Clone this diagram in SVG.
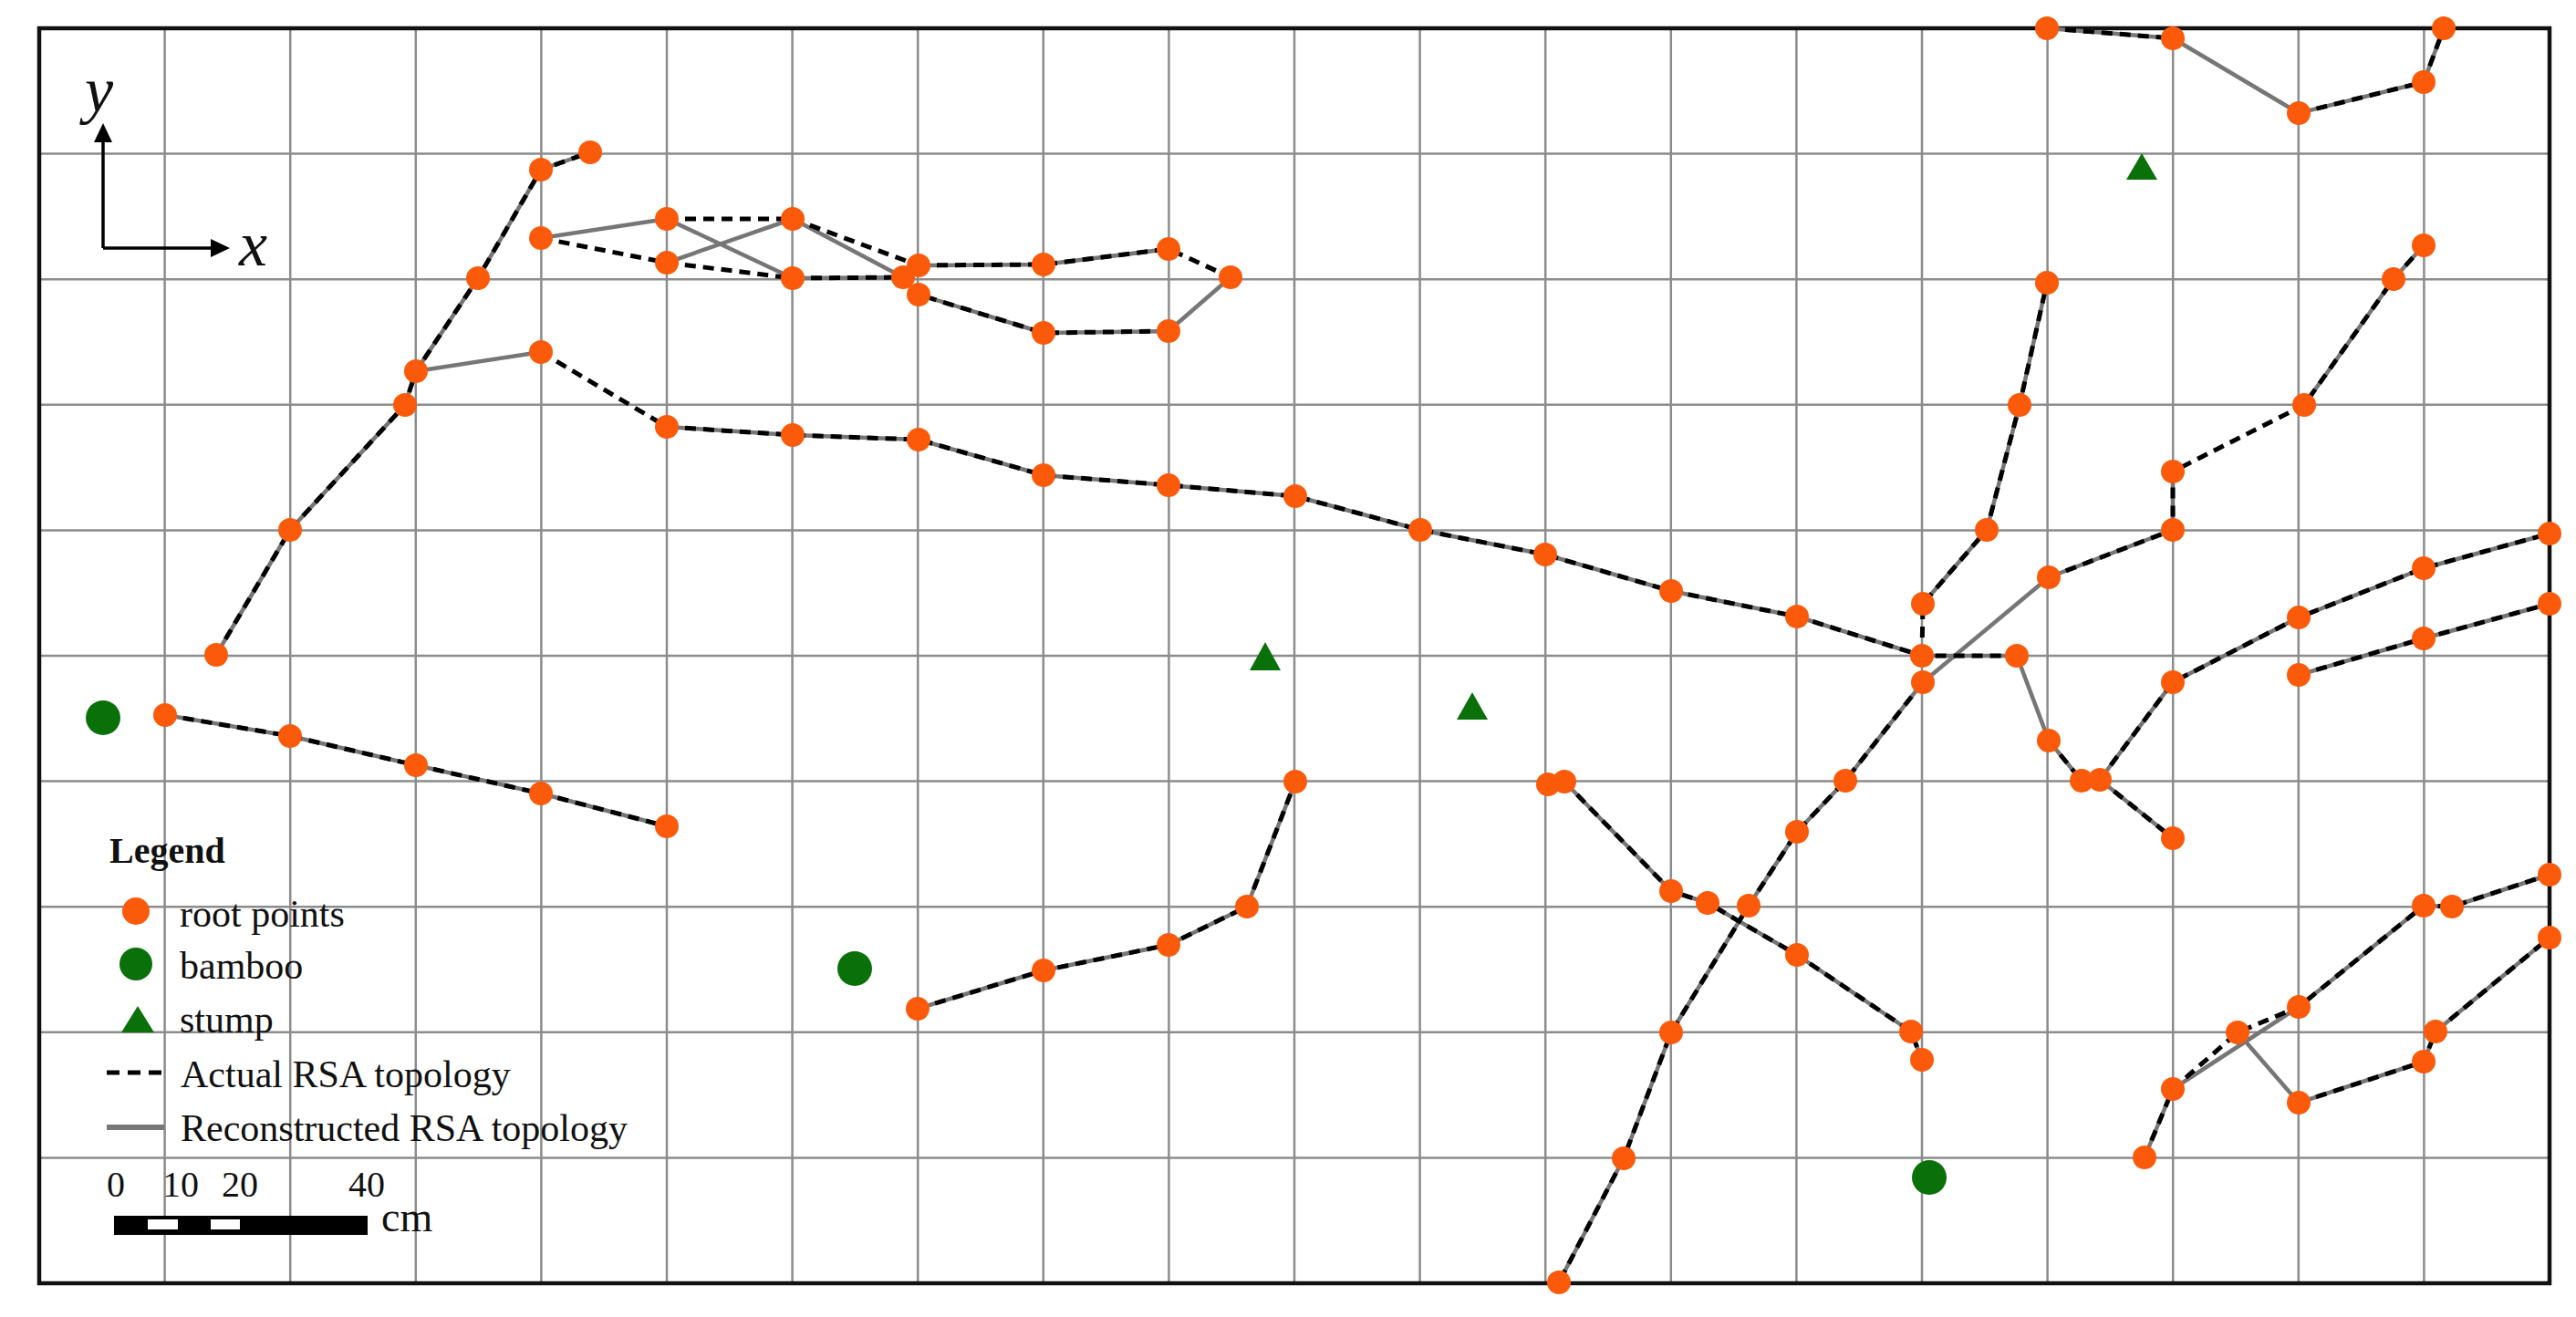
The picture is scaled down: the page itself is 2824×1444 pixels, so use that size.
<svg xmlns="http://www.w3.org/2000/svg" width="2824" height="1444" viewBox="0 0 2824 1444">
<style>
.grid{stroke:#8c8c8c;stroke-width:2.5;fill:none}
.frame{stroke:#111;stroke-width:4.5;fill:none}
.g{stroke:#767676;stroke-width:4.5;fill:none;stroke-linejoin:round}
.d{stroke:#000;stroke-width:5;fill:none;stroke-dasharray:12 8}
.pt{fill:#FA5A0A}
.bam{fill:#0A700A}
.stump{fill:#0A700A}
.txt{font-family:"Liberation Serif","Times New Roman",serif;fill:#111}
.ax{stroke:#000;stroke-width:3.5;fill:none}
</style>
<defs>
<circle id="dot" r="13"/>
</defs>
<rect x="0" y="0" width="2824" height="1444" fill="#fff"/>
<g id="grid">
<path class="grid" d="M180.6,31V1407M318.2,31V1407M455.8,31V1407M593.4,31V1407M731,31V1407M868.6,31V1407M1006.2,31V1407M1143.8,31V1407M1281.4,31V1407M1419,31V1407M1556.6,31V1407M1694.2,31V1407M1831.8,31V1407M1969.4,31V1407M2107,31V1407M2244.6,31V1407M2382.2,31V1407M2519.8,31V1407M2657.4,31V1407"/>
<path class="grid" d="M43,168.6H2795M43,306.2H2795M43,443.8H2795M43,581.4H2795M43,719H2795M43,856.6H2795M43,994.2H2795M43,1131.8H2795M43,1269.4H2795"/>
<rect class="frame" x="43" y="31" width="2752" height="1376"/>
</g>
<g id="axes">
<path class="ax" d="M113,272 V150"/>
<path class="ax" d="M113,272 H236"/>
<path d="M113,135 L103,156 L123,156 z" fill="#000"/>
<path d="M252,272 L231,262 L231,282 z" fill="#000"/>
<text class="txt" x="93" y="122" font-size="70" font-style="italic">y</text>
<text class="txt" x="262" y="291" font-size="70" font-style="italic">x</text>
</g>
<g id="connectors">
<g id="reconstructed">
<polyline class="g" points="237,718 318,581 444,444 456,407 524,305 593,186 647,167"/>
<line class="g" x1="456" y1="407" x2="593" y2="386"/>
<line class="g" x1="593" y1="261" x2="731" y2="240"/>
<line class="g" x1="731" y1="240" x2="869" y2="305"/>
<line class="g" x1="731" y1="288" x2="869" y2="240"/>
<line class="g" x1="869" y1="240" x2="990" y2="304"/>
<line class="g" x1="869" y1="305" x2="990" y2="304"/>
<polyline class="g" points="1007,291 1144,290 1281,273"/>
<polyline class="g" points="1349,304 1281,363 1144,365 1007,323"/>
<polyline class="g" points="731,468 869,477 1007,482 1144,521 1281,532 1420,544 1557,581 1694,608 1832,648 1970,676 2107,719 2211,719"/>
<polyline class="g" points="2108,662 2178,581 2214,444 2244,310"/>
<line class="g" x1="2108" y1="748" x2="2246" y2="633"/>
<polyline class="g" points="2246,633 2382,581 2382,517"/>
<polyline class="g" points="2526,444 2624,306 2657,269"/>
<polyline class="g" points="2108,748 2023,856 1970,912 1917,993 1832,1132 1780,1270 1709,1406"/>
<line class="g" x1="2211" y1="719" x2="2246" y2="812"/>
<line class="g" x1="2246" y1="812" x2="2282" y2="856"/>
<line class="g" x1="2302" y1="855" x2="2382" y2="919"/>
<polyline class="g" points="2302,855 2382,748 2520,677 2657,623 2795,585"/>
<polyline class="g" points="2520,740 2657,700 2795,662"/>
<polyline class="g" points="181,784 318,807 456,839 593,870 731,906"/>
<polyline class="g" points="1006,1106 1144,1064 1281,1036 1367,994 1420,857"/>
<polyline class="g" points="1715,857 1832,977 1872,990 1970,1047 2095,1131 2107,1162"/>
<line class="g" x1="2244" y1="31" x2="2382" y2="42"/>
<line class="g" x1="2382" y1="42" x2="2520" y2="124"/>
<polyline class="g" points="2520,124 2657,90 2679,31"/>
<line class="g" x1="2351" y1="1269" x2="2382" y2="1194"/>
<line class="g" x1="2382" y1="1194" x2="2520" y2="1104"/>
<line class="g" x1="2453" y1="1132" x2="2520" y2="1209"/>
<polyline class="g" points="2520,1209 2657,1164 2670,1131 2795,1028"/>
<polyline class="g" points="2520,1104 2657,993 2688,994 2795,959"/>
</g>
<g id="actual">
<polyline class="d" points="237,718 318,581 444,444 456,407 524,305 593,186 647,167"/>
<line class="d" x1="593" y1="386" x2="731" y2="468"/>
<line class="d" x1="593" y1="261" x2="731" y2="288"/>
<line class="d" x1="731" y1="240" x2="869" y2="240"/>
<line class="d" x1="731" y1="288" x2="869" y2="305"/>
<line class="d" x1="869" y1="240" x2="1007" y2="291"/>
<line class="d" x1="869" y1="305" x2="990" y2="304"/>
<polyline class="d" points="1007,291 1144,290 1281,273 1349,304"/>
<polyline class="d" points="1281,363 1144,365 1007,323"/>
<polyline class="d" points="731,468 869,477 1007,482 1144,521 1281,532 1420,544 1557,581 1694,608 1832,648 1970,676 2107,719 2211,719"/>
<polyline class="d" points="2107,719 2108,662 2178,581 2214,444 2244,310"/>
<line class="d" x1="2107" y1="719" x2="2108" y2="748"/>
<polyline class="d" points="2246,633 2382,581 2382,517 2526,444 2624,306 2657,269"/>
<polyline class="d" points="2108,748 2023,856 1970,912 1917,993 1832,1132 1780,1270 1709,1406"/>
<line class="d" x1="2246" y1="812" x2="2282" y2="856"/>
<line class="d" x1="2302" y1="855" x2="2382" y2="919"/>
<polyline class="d" points="2302,855 2382,748 2520,677 2657,623 2795,585"/>
<polyline class="d" points="2520,740 2657,700 2795,662"/>
<polyline class="d" points="181,784 318,807 456,839 593,870 731,906"/>
<polyline class="d" points="1006,1106 1144,1064 1281,1036 1367,994 1420,857"/>
<polyline class="d" points="1715,857 1832,977 1872,990 1970,1047 2095,1131 2107,1162"/>
<line class="d" x1="2244" y1="31" x2="2382" y2="42"/>
<polyline class="d" points="2520,124 2657,90 2679,31"/>
<polyline class="d" points="2351,1269 2382,1194 2453,1132 2520,1104 2657,993 2688,994 2795,959"/>
<polyline class="d" points="2520,1209 2657,1164 2670,1131 2795,1028"/>
</g>
</g>
<g id="nodes" class="pt">
<g id="a1"><use href="#dot" x="237" y="718"/></g>
<g id="a2"><use href="#dot" x="318" y="581"/></g>
<g id="a3"><use href="#dot" x="444" y="444"/></g>
<g id="a4"><use href="#dot" x="456" y="407"/></g>
<g id="a5"><use href="#dot" x="524" y="305"/></g>
<g id="a6"><use href="#dot" x="593" y="186"/></g>
<g id="a7"><use href="#dot" x="647" y="167"/></g>
<g id="q1"><use href="#dot" x="593" y="386"/></g>
<g id="q2"><use href="#dot" x="593" y="261"/></g>
<g id="s1"><use href="#dot" x="731" y="240"/></g>
<g id="s2"><use href="#dot" x="731" y="288"/></g>
<g id="s3"><use href="#dot" x="869" y="240"/></g>
<g id="s4"><use href="#dot" x="869" y="305"/></g>
<g id="u1"><use href="#dot" x="1007" y="291"/></g>
<g id="u2"><use href="#dot" x="990" y="304"/></g>
<g id="u3"><use href="#dot" x="1007" y="323"/></g>
<g id="u4"><use href="#dot" x="1144" y="290"/></g>
<g id="u5"><use href="#dot" x="1281" y="273"/></g>
<g id="u6"><use href="#dot" x="1349" y="304"/></g>
<g id="u7"><use href="#dot" x="1144" y="365"/></g>
<g id="u8"><use href="#dot" x="1281" y="363"/></g>
<g id="r1"><use href="#dot" x="731" y="468"/></g>
<g id="r2"><use href="#dot" x="869" y="477"/></g>
<g id="r3"><use href="#dot" x="1007" y="482"/></g>
<g id="r4"><use href="#dot" x="1144" y="521"/></g>
<g id="r5"><use href="#dot" x="1281" y="532"/></g>
<g id="r6"><use href="#dot" x="1420" y="544"/></g>
<g id="r7"><use href="#dot" x="1557" y="581"/></g>
<g id="r8"><use href="#dot" x="1694" y="608"/></g>
<g id="r9"><use href="#dot" x="1832" y="648"/></g>
<g id="r10"><use href="#dot" x="1970" y="676"/></g>
<g id="r11"><use href="#dot" x="2107" y="719"/></g>
<g id="r12"><use href="#dot" x="2211" y="719"/></g>
<g id="v1"><use href="#dot" x="2108" y="662"/></g>
<g id="v2"><use href="#dot" x="2178" y="581"/></g>
<g id="v3"><use href="#dot" x="2214" y="444"/></g>
<g id="v4"><use href="#dot" x="2244" y="310"/></g>
<g id="w1"><use href="#dot" x="2108" y="748"/></g>
<g id="w2"><use href="#dot" x="2246" y="633"/></g>
<g id="w3"><use href="#dot" x="2382" y="581"/></g>
<g id="w4"><use href="#dot" x="2382" y="517"/></g>
<g id="w5"><use href="#dot" x="2526" y="444"/></g>
<g id="w6"><use href="#dot" x="2624" y="306"/></g>
<g id="w7"><use href="#dot" x="2657" y="269"/></g>
<g id="x1"><use href="#dot" x="2023" y="856"/></g>
<g id="x2"><use href="#dot" x="1970" y="912"/></g>
<g id="x3"><use href="#dot" x="1917" y="993"/></g>
<g id="x4"><use href="#dot" x="1832" y="1132"/></g>
<g id="x5"><use href="#dot" x="1780" y="1270"/></g>
<g id="x6"><use href="#dot" x="1709" y="1406"/></g>
<g id="t1"><use href="#dot" x="2246" y="812"/></g>
<g id="t2"><use href="#dot" x="2282" y="856"/></g>
<g id="t3"><use href="#dot" x="2302" y="855"/></g>
<g id="t4"><use href="#dot" x="2382" y="748"/></g>
<g id="t5"><use href="#dot" x="2382" y="919"/></g>
<g id="t6"><use href="#dot" x="2520" y="677"/></g>
<g id="t7"><use href="#dot" x="2657" y="623"/></g>
<g id="t8"><use href="#dot" x="2795" y="585"/></g>
<g id="t9"><use href="#dot" x="2520" y="740"/></g>
<g id="t10"><use href="#dot" x="2657" y="700"/></g>
<g id="t11"><use href="#dot" x="2795" y="662"/></g>
<g id="c1"><use href="#dot" x="181" y="784"/></g>
<g id="c2"><use href="#dot" x="318" y="807"/></g>
<g id="c3"><use href="#dot" x="456" y="839"/></g>
<g id="c4"><use href="#dot" x="593" y="870"/></g>
<g id="c5"><use href="#dot" x="731" y="906"/></g>
<g id="d1"><use href="#dot" x="1006" y="1106"/></g>
<g id="d2"><use href="#dot" x="1144" y="1064"/></g>
<g id="d3"><use href="#dot" x="1281" y="1036"/></g>
<g id="d4"><use href="#dot" x="1367" y="994"/></g>
<g id="d5"><use href="#dot" x="1420" y="857"/></g>
<g id="e1"><use href="#dot" x="1697" y="860"/></g>
<g id="e2"><use href="#dot" x="1715" y="857"/></g>
<g id="e3"><use href="#dot" x="1832" y="977"/></g>
<g id="e4"><use href="#dot" x="1872" y="990"/></g>
<g id="e5"><use href="#dot" x="1970" y="1047"/></g>
<g id="e6"><use href="#dot" x="2095" y="1131"/></g>
<g id="e7"><use href="#dot" x="2107" y="1162"/></g>
<g id="f1"><use href="#dot" x="2244" y="31"/></g>
<g id="f2"><use href="#dot" x="2382" y="42"/></g>
<g id="f3"><use href="#dot" x="2520" y="124"/></g>
<g id="f4"><use href="#dot" x="2657" y="90"/></g>
<g id="f5"><use href="#dot" x="2679" y="31"/></g>
<g id="z1"><use href="#dot" x="2351" y="1269"/></g>
<g id="z2"><use href="#dot" x="2382" y="1194"/></g>
<g id="z3"><use href="#dot" x="2453" y="1132"/></g>
<g id="z4"><use href="#dot" x="2520" y="1104"/></g>
<g id="z5"><use href="#dot" x="2520" y="1209"/></g>
<g id="z6"><use href="#dot" x="2657" y="1164"/></g>
<g id="z7"><use href="#dot" x="2670" y="1131"/></g>
<g id="z8"><use href="#dot" x="2795" y="1028"/></g>
<g id="z9"><use href="#dot" x="2657" y="993"/></g>
<g id="z10"><use href="#dot" x="2688" y="994"/></g>
<g id="z11"><use href="#dot" x="2795" y="959"/></g>
</g>
<g id="bamboo1"><circle class="bam" cx="113" cy="787" r="19"/></g>
<g id="bamboo2"><circle class="bam" cx="937" cy="1062" r="19"/></g>
<g id="bamboo3"><circle class="bam" cx="2115" cy="1291" r="19"/></g>
<g id="stump1"><polygon class="stump" points="1387,704 1370,735 1404,735"/></g>
<g id="stump2"><polygon class="stump" points="1614,759 1597,789 1631,789"/></g>
<g id="stump3"><polygon class="stump" points="2348,168 2331,197 2365,197"/></g>
<g id="legend">
<text class="txt" x="120" y="946" font-size="40" font-weight="bold">Legend</text>
<circle class="pt" cx="149" cy="999" r="15"/>
<text class="txt" x="197" y="1016" font-size="42">root points</text>
<circle class="bam" cx="149" cy="1057" r="18"/>
<text class="txt" x="197" y="1073" font-size="42">bamboo</text>
<polygon class="stump" points="151,1103 133,1132 169,1132"/>
<text class="txt" x="197" y="1132" font-size="42">stump</text>
<line x1="117" y1="1176" x2="179" y2="1176" stroke="#000" stroke-width="5" stroke-dasharray="14 9"/>
<text class="txt" x="198" y="1192" font-size="42">Actual RSA topology</text>
<line x1="117" y1="1236" x2="180" y2="1236" stroke="#777" stroke-width="6"/>
<text class="txt" x="198" y="1251" font-size="42">Reconstructed RSA topology</text>
<text class="txt" x="117" y="1312" font-size="40">0</text>
<text class="txt" x="178" y="1312" font-size="40">10</text>
<text class="txt" x="243" y="1312" font-size="40">20</text>
<text class="txt" x="382" y="1312" font-size="40">40</text>
<rect x="125" y="1333" width="278" height="21" fill="#000"/>
<rect x="162" y="1337" width="33" height="11" fill="#fff"/>
<rect x="231" y="1337" width="32" height="11" fill="#fff"/>
<text class="txt" x="418" y="1350" font-size="46">cm</text>
</g>
</svg>
